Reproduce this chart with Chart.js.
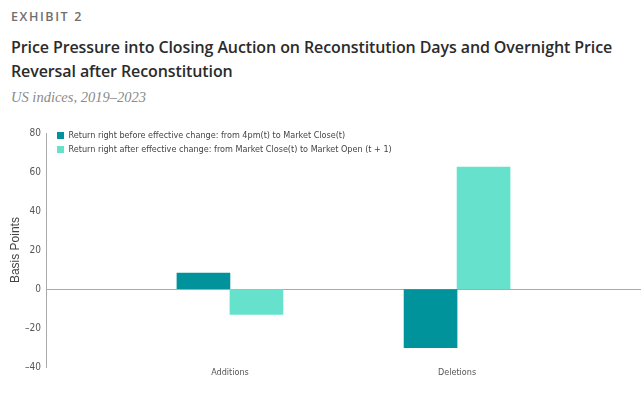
<!DOCTYPE html>
<html>
<head>
<meta charset="utf-8">
<script src="https://cdn.jsdelivr.net/npm/chart.js@4/dist/chart.umd.min.js"></script>
<style>
  html, body { margin: 0; padding: 0; background: #fff; }
  body { width: 641px; height: 397px; position: relative; overflow: hidden; font-family: "Open Sans", sans-serif; }
  .exhibit { position: absolute; left: 11px; top: 8px; font-size: 12.5px; font-weight: 600; letter-spacing: 1.6px; color: #6e6e6e; }
  .title { position: absolute; left: 11px; top: 35px; width: 630px; font-size: 16px; letter-spacing: -0.1px; font-weight: 600; line-height: 24px; color: #2b2b2b; }
  .subtitle { position: absolute; left: 11px; top: 89px; font-family: "Liberation Serif", serif; font-style: italic; font-size: 14.5px; color: #8a8a8a; }
  .chart-wrap { position: absolute; left: 0; top: 118px; width: 641px; height: 279px; }
</style>
</head>
<body>
<div class="exhibit">EXHIBIT 2</div>
<div class="title">Price Pressure into Closing Auction on Reconstitution Days and Overnight Price Reversal after Reconstitution</div>
<div class="subtitle">US indices, 2019–2023</div>
<div class="chart-wrap"><canvas id="chart"></canvas></div>
<script>
// Chart data
const categories = ["Additions", "Deletions"]
const seriesLabels = [
  "Return right before effective change: from 4pm(t) to Market Close(t)",
  "Return right after effective change: from Market Close(t) to Market Open (t + 1)",
]
const beforeValues = [8.2, -30.0]
const afterValues = [-13.0, 62.5]
const yTicks = [-40, -20, 0, 20, 40, 60, 80]

const TEAL = "#00939c"
const AQUA = "#66e2cc"
// "condensed" goes into the canvas font shorthand as font-stretch
const NARROW = { family: "'DejaVu Sans', sans-serif", weight: "condensed" }

const toPoints = vals => vals.map((v, i) => ({ x: i, y: v }))

// nudge the in-plot legend to where the original has it
const legendNudge = {
  id: "legendNudge",
  afterLayout(chart) {
    const lg = chart.legend
    if (!lg) return
    lg.left += 6; lg.right += 6
    lg.top += 8; lg.bottom += 8
  },
}

const ctx = document.getElementById("chart").getContext("2d")
new Chart(ctx, {
  type: "bar",
  data: {
    datasets: [
      { label: seriesLabels[0], data: toPoints(beforeValues), backgroundColor: TEAL, barThickness: 53 },
      { label: seriesLabels[1], data: toPoints(afterValues), backgroundColor: AQUA, barThickness: 53 },
    ],
  },
  plugins: [legendNudge],
  options: {
    responsive: true,
    maintainAspectRatio: false,
    animation: false,
    layout: { padding: { top: 15, right: 0, left: 0, bottom: 19 } },
    plugins: {
      tooltip: { enabled: false },
      legend: {
        position: "chartArea",
        align: "start",
        labels: {
          boxWidth: 7,
          boxHeight: 7,
          padding: 5,
          color: "#444",
          font: { ...NARROW, size: 9 },
        },
      },
    },
    scales: {
      x: {
        type: "linear",
        offset: false,
        min: -0.81,
        max: 1.81,
        afterBuildTicks: axis => { axis.ticks = categories.map((c, i) => ({ value: i })) },
        ticks: {
          callback: v => categories[v],
          color: "#555",
          font: { ...NARROW, size: 9 },
          padding: 0,
          maxRotation: 0,
        },
        grid: { display: false, drawTicks: false, offset: false },
        border: { display: false },
      },
      y: {
        min: -40,
        max: 80,
        afterBuildTicks: axis => { axis.ticks = yTicks.map(v => ({ value: v })) },
        afterFit: axis => { axis.width = 46 },
        ticks: {
          color: "#555",
          font: { ...NARROW, size: 10 },
          padding: 5,
          callback: v => v < 0 ? "\u2013" + Math.abs(v) : v,
        },
        grid: {
          drawTicks: false,
          color: c => c.tick && c.tick.value === 0 ? "#aaa" : "transparent",
        },
        border: { color: "#aaa" },
        title: {
          display: true,
          text: "Basis Points",
          color: "#444",
          font: { family: "'Liberation Sans', sans-serif", size: 12 },
          padding: { top: 8, bottom: 0 },
        },
      },
    },
  },
})
</script>
</body>
</html>
